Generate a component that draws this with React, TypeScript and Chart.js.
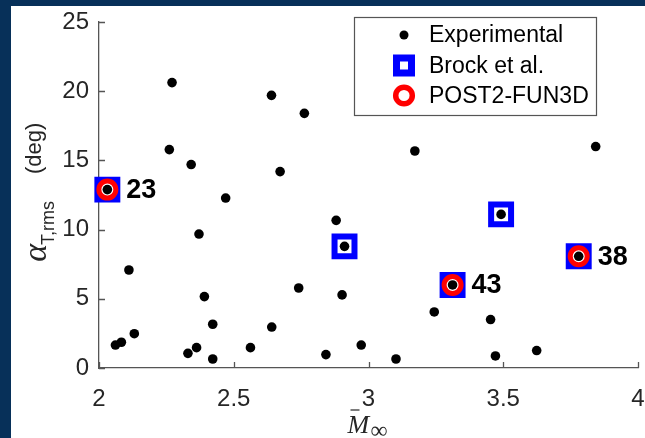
import React, { useEffect, useRef } from "react";
import { Chart, registerables } from "chart.js";

Chart.register(...registerables);

// ---- data ----
const expX = [2.031, 2.061, 2.083, 2.111, 2.131, 2.261, 2.271, 2.33, 2.342, 2.362, 2.371, 2.391, 2.422, 2.422, 2.47, 2.562, 2.64, 2.641, 2.672, 2.741, 2.762, 2.842, 2.88, 2.902, 2.911, 2.973, 3.102, 3.172, 3.244, 3.312, 3.453, 3.471, 3.492, 3.624, 3.78, 3.843];
const expY = [12.89, 1.66, 1.86, 7.08, 2.48, 15.78, 20.62, 1.06, 14.7, 1.47, 9.68, 5.16, 3.16, 0.65, 12.28, 1.47, 19.7, 2.96, 14.19, 5.78, 18.4, 0.97, 10.67, 5.28, 8.79, 1.66, 0.65, 15.68, 4.05, 6.0, 3.5, 0.87, 11.1, 1.26, 8.07, 16.0];
const brockX = [2.031, 2.911, 3.312, 3.492, 3.78];
const brockY = [12.89, 8.79, 6.0, 11.1, 8.07];
const postX = [2.031, 3.312, 3.78];
const postY = [12.89, 6.0, 8.07];
const postLabels = ["23", "43", "38"];
const seriesNames = ["Experimental", "Brock et al.", "POST2-FUN3D"];
const xTicks = [2, 2.5, 3, 3.5, 4];
const yTicks = [0, 5, 10, 15, 20, 25];

// ---- styles ----
const W = 645;
const H = 438;
const FRAME = "#073059";
const AXIS = "#555555";
const TEXT = "#262626";
const BLUE = "#0000ff";
const RED = "#ff0000";
const SANS = "Arial, 'Liberation Sans', sans-serif";
const SERIF = "'Liberation Serif', 'Times New Roman', serif";

const decor = {
  id: "decor",
  beforeDraw(chart: any) {
    const ctx = chart.ctx;
    ctx.save();
    ctx.fillStyle = FRAME;
    ctx.fillRect(0, 0, W, H);
    ctx.fillStyle = "#ffffff";
    ctx.fillRect(11, 6, W - 11, H - 6);
    ctx.restore();
  },
  afterDraw(chart: any) {
    const ctx = chart.ctx;
    const area = chart.chartArea;
    const xs = chart.scales.x;
    const ys = chart.scales.y;
    ctx.save();

    // inward tick marks
    ctx.strokeStyle = AXIS;
    ctx.lineWidth = 1.3;
    ctx.beginPath();
    for (const v of xTicks) {
      const px = Math.round(xs.getPixelForValue(v)) + 0.5;
      ctx.moveTo(px, area.bottom);
      ctx.lineTo(px, area.bottom - 6);
    }
    for (const v of yTicks) {
      const py = Math.round(ys.getPixelForValue(v)) + 0.5;
      ctx.moveTo(area.left, py);
      ctx.lineTo(area.left + 6, py);
    }
    ctx.stroke();

    // case labels
    ctx.fillStyle = "#000";
    ctx.font = `bold 27px ${SANS}`;
    ctx.textAlign = "left";
    ctx.textBaseline = "middle";
    postLabels.forEach((t, i) => {
      ctx.fillText(t, xs.getPixelForValue(postX[i]) + 19, ys.getPixelForValue(postY[i]) + 1);
    });

    // legend
    const lx = area.right - 284;
    const ly = area.top - 5;
    const lw = 242;
    const lh = 98;
    ctx.fillStyle = "#fff";
    ctx.fillRect(lx, ly, lw, lh);
    ctx.strokeStyle = AXIS;
    ctx.lineWidth = 1.2;
    ctx.strokeRect(lx + 0.5, ly + 0.5, lw, lh);
    const sx = lx + 50;
    const tx = lx + 75;
    const rows = [ly + 18, ly + 48.5, ly + 78.5];
    ctx.fillStyle = "#000";
    ctx.beginPath();
    ctx.arc(sx, rows[0], 4.5, 0, Math.PI * 2);
    ctx.fill();
    ctx.strokeStyle = BLUE;
    ctx.lineWidth = 7;
    ctx.strokeRect(sx - 7.5, rows[1] - 7.5, 15, 15);
    ctx.strokeStyle = RED;
    ctx.lineWidth = 5.5;
    ctx.beginPath();
    ctx.arc(sx, rows[2], 8.3, 0, Math.PI * 2);
    ctx.stroke();
    ctx.fillStyle = "#000";
    ctx.font = `23px ${SANS}`;
    ctx.textAlign = "left";
    ctx.textBaseline = "middle";
    seriesNames.forEach((n, i) => ctx.fillText(n, tx, rows[i] + 1));

    // y axis title: alpha_{T,rms} (deg), rotated; u measured upward from plot centre
    const yc = (area.top + area.bottom) / 2;
    ctx.save();
    ctx.translate(0, yc);
    ctx.rotate(-Math.PI / 2);
    ctx.fillStyle = TEXT;
    ctx.textBaseline = "alphabetic";
    ctx.textAlign = "left";
    ctx.font = `italic 34px ${SERIF}`;
    const wA = ctx.measureText("\u03b1").width;
    ctx.fillText("\u03b1", -49 - wA, 46);
    ctx.font = `18px ${SANS}`;
    ctx.fillText("T,rms", -50, 54);
    ctx.font = `22px ${SANS}`;
    ctx.fillText("(deg)", 21, 41);
    ctx.restore();

    // x axis title: M-bar with infinity subscript
    const xc = (area.left + area.right) / 2;
    ctx.fillStyle = TEXT;
    ctx.textBaseline = "alphabetic";
    ctx.textAlign = "left";
    ctx.font = `italic 26px ${SERIF}`;
    const mx = xc - 21;
    ctx.fillText("M", mx, 433);
    ctx.font = `24px ${SERIF}`;
    ctx.fillText("\u221e", mx + 23, 438);
    ctx.strokeStyle = TEXT;
    ctx.lineWidth = 1.2;
    ctx.beginPath();
    ctx.moveTo(mx + 3, 410);
    ctx.lineTo(mx + 12, 410);
    ctx.stroke();

    ctx.restore();
  },
};

export default function App() {
  const ref = useRef<HTMLCanvasElement | null>(null);
  useEffect(() => {
    if (!ref.current) return;
    const chart = new Chart(ref.current, {
      type: "scatter",
      data: {
        datasets: [
          {
            label: seriesNames[0],
            data: expX.map((v, i) => ({ x: v, y: expY[i] })),
            pointStyle: "circle",
            pointRadius: 4.8,
            pointHoverRadius: 4.8,
            backgroundColor: "#000",
            borderWidth: 0,
            order: 0,
            clip: false,
          },
          {
            label: seriesNames[1],
            data: brockX.map((v, i) => ({ x: v, y: brockY[i] })),
            pointStyle: "rect",
            pointRadius: 14.1,
            pointHoverRadius: 14.1,
            backgroundColor: "#fff",
            borderColor: BLUE,
            borderWidth: 6,
            order: 2,
            clip: false,
          },
          {
            label: seriesNames[2],
            data: postX.map((v, i) => ({ x: v, y: postY[i] })),
            pointStyle: "circle",
            pointRadius: 8.5,
            pointHoverRadius: 8.5,
            backgroundColor: "#fff",
            borderColor: RED,
            borderWidth: 5,
            order: 1,
            clip: false,
          },
        ],
      },
      options: {
        responsive: false,
        animation: false,
        events: [],
        layout: { autoPadding: false, padding: { top: 22, right: 7, left: 0, bottom: 0 } },
        plugins: { legend: { display: false }, tooltip: { enabled: false } },
        scales: {
          x: {
            type: "linear",
            min: 2,
            max: 4,
            afterBuildTicks: (s: any) => {
              s.ticks = xTicks.map((v) => ({ value: v }));
            },
            afterFit: (s: any) => {
              s.height = 70;
              s.paddingLeft = 0;
              s.paddingRight = 0;
            },
            ticks: {
              color: TEXT,
              font: { family: SANS, size: 24 },
              padding: 17,
              maxRotation: 0,
              callback: (v: any) => String(v),
            },
            grid: { display: false, drawTicks: false },
            border: { display: true, color: AXIS, width: 1.3 },
          },
          y: {
            type: "linear",
            min: 0,
            max: 25,
            afterBuildTicks: (s: any) => {
              s.ticks = yTicks.map((v) => ({ value: v }));
            },
            afterFit: (s: any) => {
              s.width = 99;
              s.paddingTop = 0;
              s.paddingBottom = 0;
            },
            ticks: {
              color: TEXT,
              font: { family: SANS, size: 24 },
              padding: 10,
              callback: (v: any) => String(v),
            },
            grid: { display: false, drawTicks: false },
            border: { display: true, color: AXIS, width: 1.3 },
          },
        },
      },
      plugins: [decor],
    });
    return () => chart.destroy();
  }, []);
  return (
    <canvas
      ref={ref}
      width={W}
      height={H}
      style={{ position: "fixed", left: 0, top: 0, width: W, height: H, display: "block" }}
    />
  );
}
